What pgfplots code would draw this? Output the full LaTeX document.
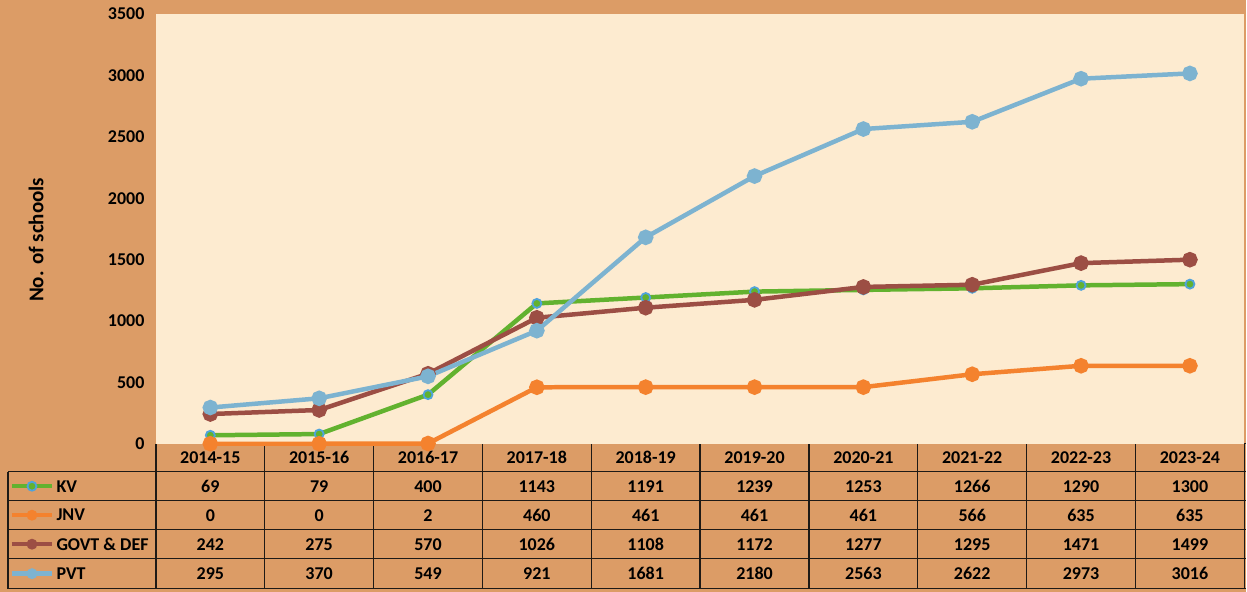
\documentclass[border=0pt]{standalone}
\usepackage{pgfplots}
\pgfplotsset{compat=1.18}
\usepackage{pgfplotstable}
\usepackage{fontspec}
\setmainfont{Carlito}
\definecolor{bgorange}{HTML}{DC9C66}
\definecolor{cream}{HTML}{FDEBD0}
\definecolor{kvgreen}{HTML}{62B22F}
\definecolor{kvblue}{HTML}{4FA3DB}
\definecolor{jnvorange}{HTML}{F4822E}
\definecolor{govbrown}{HTML}{9C4E44}
\definecolor{pvtblue}{HTML}{7DB3D0}
\definecolor{gridline}{HTML}{1E1A16}

\pgfplotstableread{
x kv jnv gov pvt
0 69 0 242 295
1 79 0 275 370
2 400 2 570 549
3 1143 460 1026 921
4 1191 461 1108 1681
5 1239 461 1172 2180
6 1253 461 1277 2563
7 1266 566 1295 2622
8 1290 635 1471 2973
9 1300 635 1499 3016
}\datatable

\newcommand{\tabfont}{\fontsize{18}{20}\selectfont\bfseries}

\begin{document}
\begin{tikzpicture}[x=1pt,y=1pt]
\fill[bgorange] (0,0) rectangle (1247,592);
% table
\begin{scope}[line width=1.4pt, draw=gridline]
\draw (156,148) -- (1247,148);
\foreach \yy in {120,91,62,33,3} \draw (8,\yy) -- (1247,\yy);
\draw (8,3) -- (8,120);
\foreach \i in {0,...,10} \draw ({156+\i*108.9},3) -- ({156+\i*108.9},148);
\end{scope}
\foreach \lab [count=\i from 0] in {2014-15,2015-16,2016-17,2017-18,2018-19,2019-20,2020-21,2021-22,2022-23,2023-24}
  \node[font=\tabfont] at ({156+(\i+0.5)*108.9},134) {\lab};
\foreach \col/\yc in {kv/105.5,jnv/76.5,gov/47.5,pvt/18}{
  \foreach \i in {0,...,9}{
    \pgfplotstablegetelem{\i}{\col}\of\datatable
    \node[font=\tabfont] at ({156+(\i+0.5)*108.9},\yc) {\pgfplotsretval};
  }
}
% legend keys
\draw[kvgreen, line width=4.5pt] (12,105.5) -- (52,105.5);
\fill[kvgreen, draw=kvblue, line width=1.8pt] (32,105.5) circle (4.5);
\node[font=\tabfont, anchor=west] at (53,105.5) {KV};
\draw[jnvorange, line width=4.5pt] (12,76.5) -- (52,76.5);
\fill[jnvorange] (32,76.5) circle (5.5);
\node[font=\tabfont, anchor=west] at (53,76.5) {JNV};
\draw[govbrown, line width=4.5pt] (12,47.5) -- (52,47.5);
\fill[govbrown] (32,47.5) circle (5.5);
\node[font=\tabfont, anchor=west] at (53,47.5) {GOVT \& DEF};
\draw[pvtblue, line width=4.5pt] (12,18) -- (52,18);
\fill[pvtblue] (32,18) circle (5.5);
\node[font=\tabfont, anchor=west] at (53,18) {PVT};
% y label
\node[font=\fontsize{21}{23}\selectfont\bfseries, rotate=90] at (36,352) {No. of schools};
\begin{axis}[
  at={(156pt,148pt)}, anchor=south west,
  width=1089pt, height=430pt, scale only axis,
  xmin=-0.5, xmax=9.5, ymin=0, ymax=3500,
  ytick={0,500,...,3500}, xtick=\empty,
  axis background/.style={fill=cream},
  axis line style={draw=none},
  major tick length=0pt,
  yticklabel style={font=\tabfont, xshift=-8pt},
  /pgf/number format/assume math mode=true,
  /pgf/number format/1000 sep={},
  scaled y ticks=false,
  clip=false,
  every axis plot/.append style={line width=4.5pt, mark=*, mark size=5.5pt, mark options={line width=0.4pt}},
]
\addplot[kvgreen, mark options={fill=kvgreen, draw=kvblue, line width=1.8pt, mark size=4.5pt}] table[x=x,y=kv] {\datatable};
\addplot[jnvorange, mark options={fill=jnvorange}] table[x=x,y=jnv] {\datatable};
\addplot[govbrown, mark options={fill=govbrown}] table[x=x,y=gov] {\datatable};
\addplot[pvtblue, mark options={fill=pvtblue}] table[x=x,y=pvt] {\datatable};
\end{axis}
\end{tikzpicture}
\end{document}
